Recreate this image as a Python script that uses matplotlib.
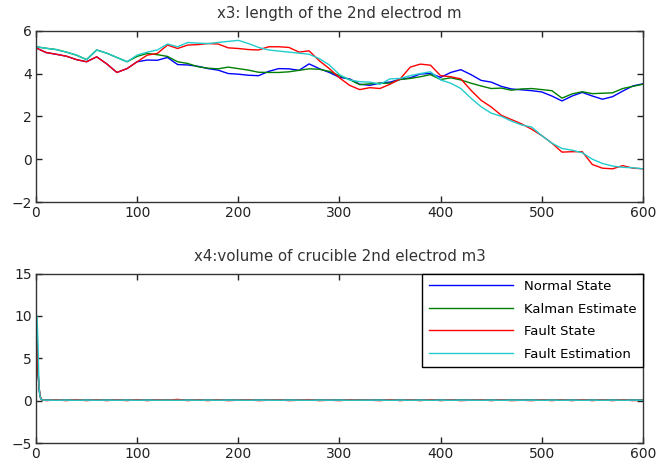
import matplotlib
matplotlib.use("Agg")
import matplotlib.pyplot as plt

# x3: length of the 2nd electrode, sampled every 10 steps
t3 = list(range(0, 601, 10))
x3_normal = [5.2, 4.98, 4.9, 4.81, 4.65, 4.55, 4.78, 4.45, 4.05, 4.23,
             4.55, 4.63, 4.62, 4.75, 4.42, 4.4, 4.34, 4.23, 4.16, 4.0,
             3.97, 3.92, 3.9, 4.1, 4.23, 4.22, 4.15, 4.45, 4.23, 4.05,
             3.82, 3.75, 3.5, 3.45, 3.55, 3.6, 3.73, 3.8, 3.98, 4.0,
             3.82, 4.05, 4.18, 3.95, 3.68, 3.6, 3.4, 3.28, 3.24, 3.2,
             3.14, 2.95, 2.72, 2.95, 3.12, 2.95, 2.8, 2.92, 3.18, 3.42, 3.52]
x3_kalman = [5.25, 5.18, 5.12, 5.0, 4.86, 4.65, 5.1, 4.95, 4.75, 4.55,
             4.8, 4.94, 4.88, 4.8, 4.55, 4.47, 4.32, 4.25, 4.22, 4.3,
             4.23, 4.16, 4.06, 4.05, 4.05, 4.08, 4.15, 4.22, 4.2, 4.1,
             3.9, 3.72, 3.48, 3.52, 3.55, 3.55, 3.72, 3.77, 3.85, 3.95,
             3.72, 3.8, 3.7, 3.55, 3.42, 3.3, 3.32, 3.22, 3.28, 3.3,
             3.25, 3.2, 2.85, 3.05, 3.15, 3.06, 3.08, 3.1, 3.3, 3.4, 3.5]
x3_fault = [5.2, 4.98, 4.9, 4.81, 4.65, 4.55, 4.78, 4.45, 4.05, 4.23,
            4.55, 4.86, 4.94, 5.33, 5.17, 5.33, 5.35, 5.4, 5.38, 5.2,
            5.17, 5.12, 5.1, 5.25, 5.25, 5.22, 5.0, 5.06, 4.6, 4.23,
            3.8, 3.45, 3.25, 3.34, 3.3, 3.5, 3.75, 4.3, 4.44, 4.39,
            3.9, 3.85, 3.75, 3.22, 2.75, 2.44, 2.05, 1.85, 1.65, 1.4,
            1.1, 0.75, 0.33, 0.35, 0.35, -0.25, -0.42, -0.45, -0.3, -0.42, -0.45]
x3_fault_est = [5.25, 5.18, 5.12, 5.0, 4.86, 4.65, 5.1, 4.95, 4.75, 4.55,
                4.86, 5.0, 5.1, 5.38, 5.25, 5.45, 5.42, 5.4, 5.45, 5.5,
                5.55, 5.4, 5.22, 5.1, 5.05, 5.0, 4.95, 4.9, 4.7, 4.4,
                3.95, 3.7, 3.62, 3.6, 3.5, 3.75, 3.77, 3.9, 4.0, 4.08,
                3.7, 3.55, 3.3, 2.85, 2.45, 2.15, 2.0, 1.78, 1.6, 1.5,
                1.1, 0.75, 0.5, 0.42, 0.3, 0.0, -0.2, -0.32, -0.38, -0.4, -0.45]

# x4: volume of crucible, fine steps at the start then every 10 steps
t4 = [0, 1, 2, 3, 4, 5, 6, 8] + list(range(10, 601, 10))
x4_normal = [10, 6.8, 3.5, 1.5, 0.5, 0.2, 0.1, 0.05] + [0.05] * 60
x4_kalman = [10, 6.8, 3.5, 1.5, 0.5, 0.2, 0.1, 0.05] + [0.05] * 60
x4_fault = [10, 7.0, 3.5, 1.7, 0.6, 0.25, 0.1, 0.05,
            0.0, 0.1, 0.0, 0.12, 0.0, 0.1, 0.0, 0.1, 0.0, 0.12,
            0.0, 0.1, 0.05, 0.15, 0.0, 0.1, 0.0, 0.1, 0.0, 0.05,
            0.1, 0.0, 0.05, 0.1, 0.0, 0.05, 0.12, 0.0, 0.05, 0.0,
            0.1, 0.05, 0.05, 0.0, 0.12, 0.0, 0.1, 0.0, 0.12, 0.0,
            0.1, 0.0, 0.05, 0.1, 0.0, 0.1, 0.0, 0.05, 0.0, 0.1,
            0.0, 0.1, 0.0, 0.12, 0.0, 0.1, 0.0, 0.1, 0.0, 0.05]
x4_fault_est = [10, 10, 6.7, 1.7, 0.5, 0.2, 0.1, 0.05] + [0.05] * 60

labels = ["Normal State", "Kalman Estimate", "Fault State", "Fault Estimation"]
colors = ["#0000ff", "#008000", "#ff0000", "#22cccc"]

plt.rcParams["font.family"] = "DejaVu Sans"
plt.rcParams["font.size"] = 9

fig = plt.figure(figsize=(6.59, 4.71), dpi=100)
ax1 = fig.add_axes([0.0546, 0.5711, 0.921, 0.3637])
ax2 = fig.add_axes([0.0546, 0.0594, 0.921, 0.3599])

for series, color, label in zip([x3_normal, x3_kalman, x3_fault, x3_fault_est], colors, labels):
    ax1.plot(t3, series, color=color, linewidth=1.0, label=label)
for series, color, label in zip([x4_normal, x4_kalman, x4_fault, x4_fault_est], colors, labels):
    ax2.plot(t4, series, color=color, linewidth=1.0, label=label)

ax1.set_xlim(0, 600)
ax1.set_ylim(-2, 6)
ax1.set_yticks([-2, 0, 2, 4, 6])
ax1.set_title("x3: length of the 2nd electrod m", fontsize=10.8, color="#333333", pad=9)

ax2.set_xlim(0, 600)
ax2.set_ylim(-5, 15)
ax2.set_yticks([-5, 0, 5, 10, 15])
ax2.set_title("x4:volume of crucible 2nd electrod m3", fontsize=10.8, color="#333333", pad=9)

for ax in (ax1, ax2):
    ax.set_xticks(range(0, 601, 100))
    ax.tick_params(direction="in", top=True, right=True, length=4, width=1.0,
                   labelsize=10, colors="#222222", pad=3)
    for spine in ax.spines.values():
        spine.set_linewidth(1.0)
        spine.set_color("#333333")

leg = ax2.legend(loc="upper right", bbox_to_anchor=(1, 1), borderaxespad=0,
                 fancybox=False, framealpha=1, edgecolor="black", fontsize=9.5,
                 handlelength=6.4, labelspacing=0.72, borderpad=0.5)
leg.get_frame().set_linewidth(1.0)

fig.savefig("out.png", dpi=100)
